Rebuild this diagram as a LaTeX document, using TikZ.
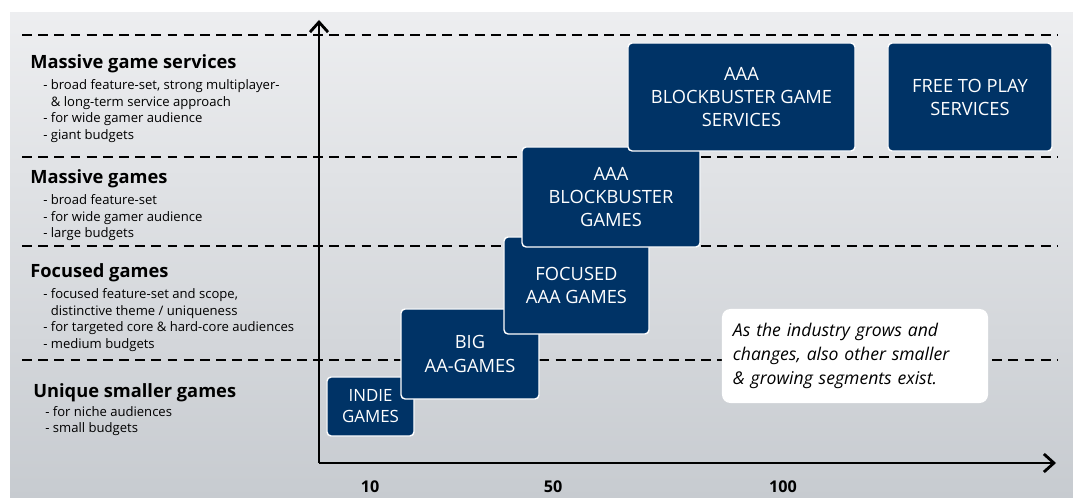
\documentclass[tikz,border=0pt]{standalone}
\usepackage{fontspec}
\setmainfont{Open Sans}
\usetikzlibrary
  {
    positioning, % place nodes relative to other nodes
    arrows.meta, % axis arrow heads
  }
\definecolor{navy}{RGB}{0,51,102}
\definecolor{bgtop}{RGB}{237,238,240}
\definecolor{bgbottom}{RGB}{199,203,208}

\begin{document}
\begin{tikzpicture}
    [
      x=0.025cm,
      y=-0.025cm,
      segment/.style=
        {
          rectangle,
          rounded corners=3pt,
          line width=1pt,
          draw=white,
          fill=navy,
          text=white,
          align=center,
          inner sep=0pt,
          font=\fontsize{13}{16.4}\selectfont,
        },
      callout/.style=
        {
          rectangle,
          rounded corners=6pt,
          fill=white,
          align=left,
          inner sep=0pt,
          font=\itshape\fontsize{12.5}{17}\selectfont,
        },
      heading/.style={anchor=base west, inner sep=0pt, font=\bfseries\fontsize{13}{15}\selectfont},
      notes/.style={anchor=north west, inner sep=0pt, align=left, font=\fontsize{9.3}{11.8}\selectfont},
      tierline/.style={line width=2pt, dash pattern=on 7pt off 4.5pt},
      axis/.style={line width=2pt, -{Straight Barb[length=2.5mm,width=4.5mm]}},
      tick/.style={inner sep=0pt, font=\bfseries\fontsize{11.5}{13}\selectfont},
    ]
    \useasboundingbox (0,0) rectangle (1073,498);
    \fill [white] (0,0) rectangle (1073,498);
    \shade [top color=bgtop, bottom color=bgbottom] (10,13) rectangle (1073,498);

    % tier separators
    \foreach \y in {35,157,246,360}
      \draw [tierline] (22,\y) -- (1057,\y);

    % axes
    \coordinate (origin) at (319,463);
    \coordinate (ytop) at (319,20);
    \coordinate (xend) at (1056,463);
    \draw [axis] (origin) -- (ytop);
    \draw [axis] (origin) -- (xend);

    % game segments
    \node (indie) [segment, minimum width=2.175cm, minimum height=1.475cm, font=\fontsize{12}{15}\selectfont]
      at (370.5,406.5) {INDIE\\GAMES};
    \node (aa) [segment, minimum width=3.45cm, minimum height=2.25cm] at (470,354) {BIG\\AA-GAMES};
    \node (focused) [segment, minimum width=3.625cm, minimum height=2.425cm] at (576.5,285.5) {FOCUSED\\AAA GAMES};
    \node (aaa) [segment, minimum width=4.45cm, minimum height=2.5cm] at (611,197) {AAA\\BLOCKBUSTER\\GAMES};
    \node (aaaserv) [segment, minimum width=5.675cm, minimum height=2.7cm] at (741.5,97)
      {AAA\\BLOCKBUSTER GAME\\SERVICES};
    \node (f2p) [segment, minimum width=4.1cm, minimum height=2.7cm] at (970,97) {FREE TO PLAY\\SERVICES};

    \node (note) [callout, minimum width=6.65cm, minimum height=2.35cm, text width=6.1cm] at (855,356)
      {As the industry grows and\\changes, also other smaller\\\& growing segments exist.};

    % tier descriptions
    \node (svcHead) [heading] at (30,69) {Massive game services};
    \node (svcNotes) [notes, below=4pt of svcHead.south west, anchor=north west, xshift=0.325cm]
      {- broad feature-set, strong multiplayer-\\\phantom{- }\& long-term service approach\\- for wide gamer audience\\- giant budgets};
    \node (massHead) [heading] at (30,184) {Massive games};
    \node (massNotes) [notes, below=4pt of massHead.south west, anchor=north west, xshift=0.325cm]
      {- broad feature-set\\- for wide gamer audience\\- large budgets};
    \node (focHead) [heading] at (30,278) {Focused games};
    \node (focNotes) [notes, below=4pt of focHead.south west, anchor=north west, xshift=0.325cm]
      {- focused feature-set and scope,\\\phantom{- }distinctive theme / uniqueness\\- for targeted core \& hard-core audiences\\- medium budgets};
    \node (uniqHead) [heading] at (33,397) {Unique smaller games};
    \node (uniqNotes) [notes, below=3pt of uniqHead.south west, anchor=north west, xshift=0.3cm]
      {- for niche audiences\\- small budgets};

    % budget ticks
    \node (t10) [tick] at (370,487) {10};
    \node (t50) [tick] at (553,487) {50};
    \node (t100) [tick] at (783,487) {100};
  \end{tikzpicture}
\end{document}
